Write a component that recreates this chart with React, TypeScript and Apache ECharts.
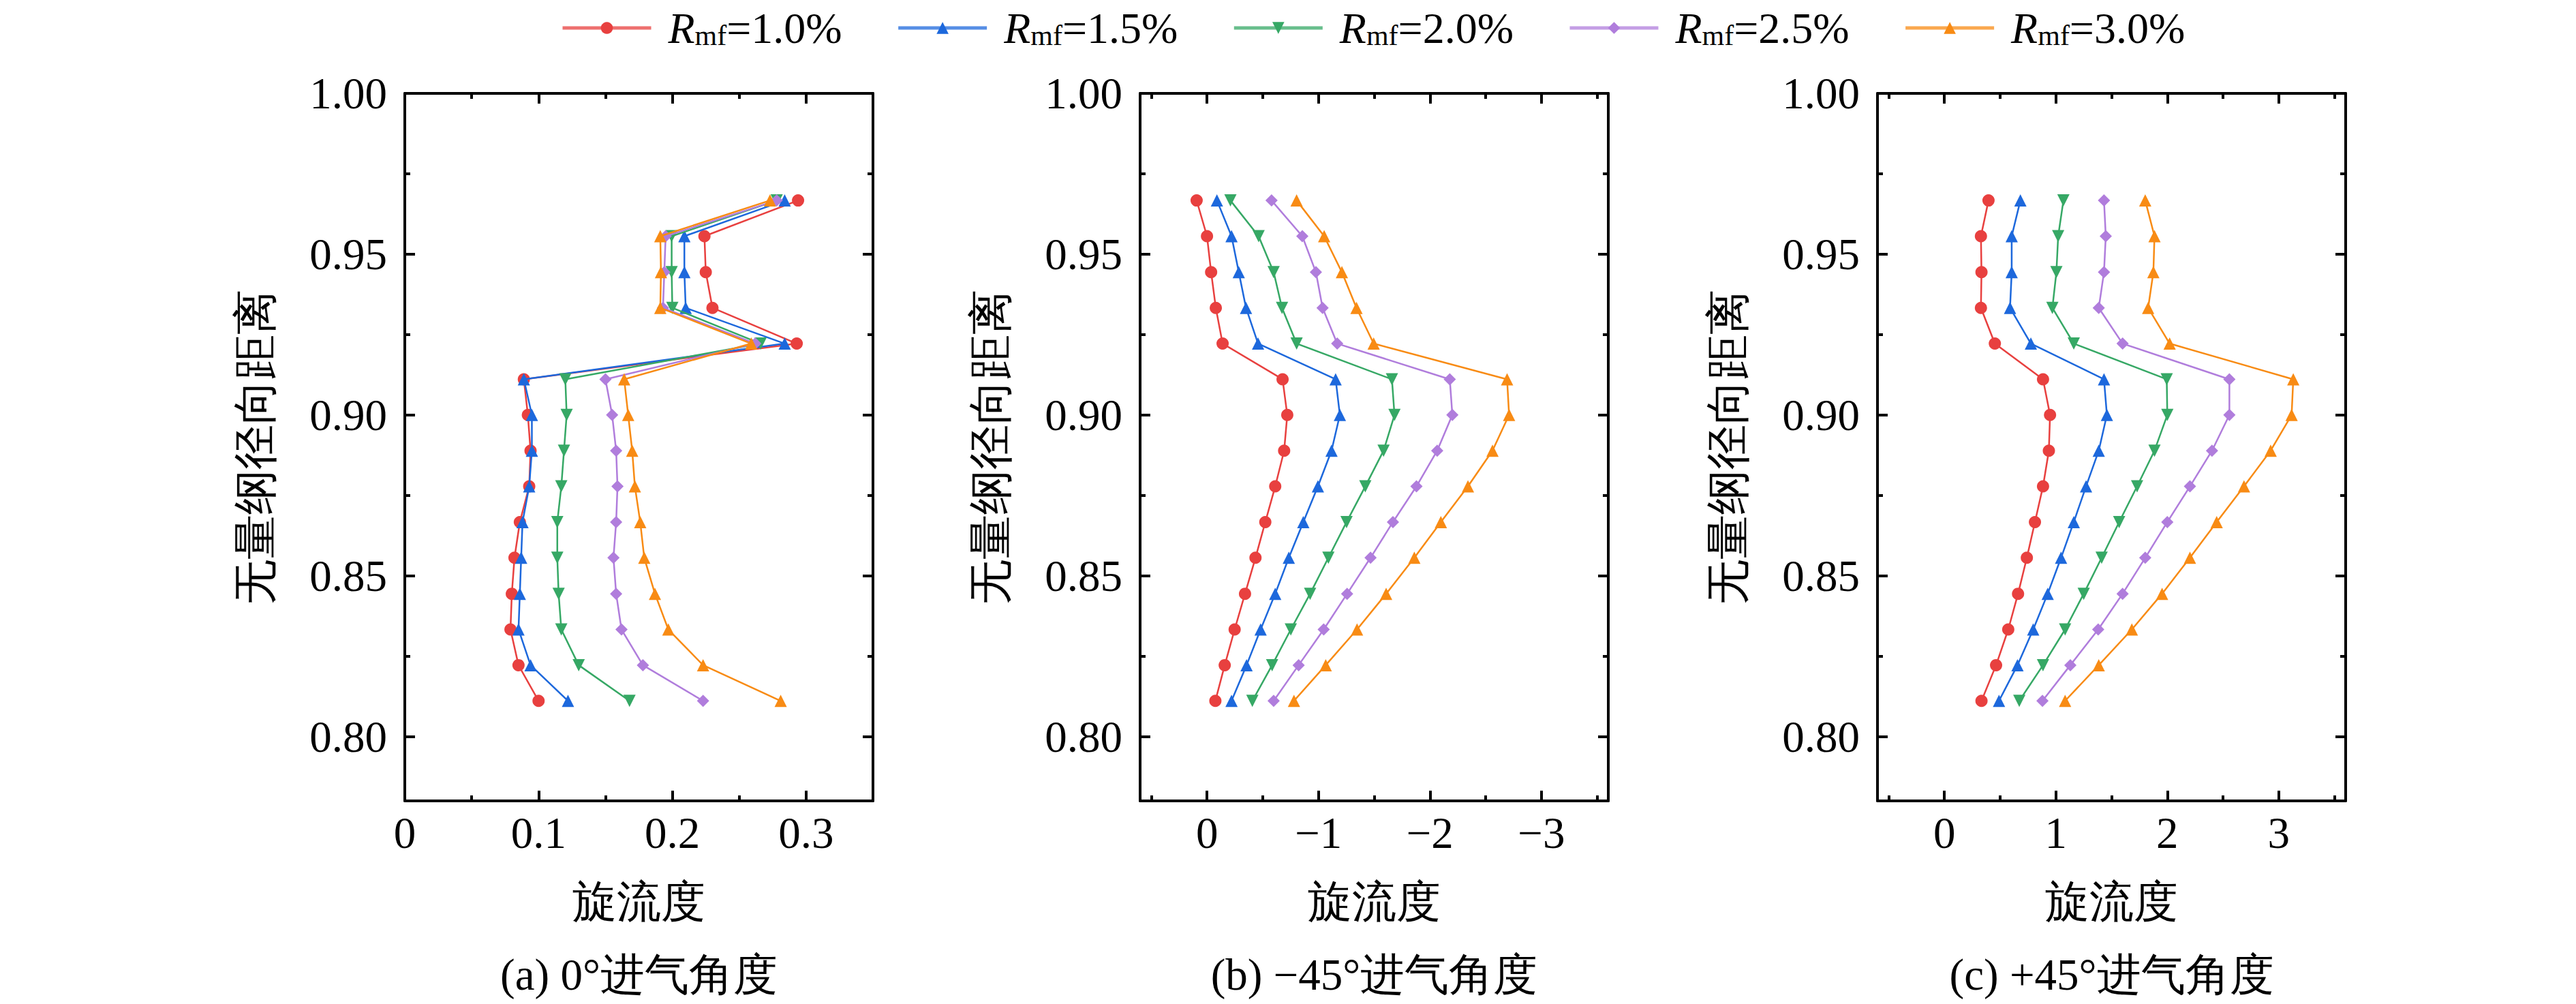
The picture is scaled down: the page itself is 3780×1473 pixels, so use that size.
import React, { useEffect, useRef } from "react";
import * as echarts from "echarts";

// dimensionless radial positions (bottom -> top), shared by all panels
const Y_POS = [
  0.8111, 0.8222, 0.8333, 0.8444, 0.8556, 0.8667, 0.8778, 0.8889, 0.9, 0.9111,
  0.9222, 0.9333, 0.9444, 0.9556, 0.9667,
];

const SERIES_NAMES = ["Rmf=1.0%", "Rmf=1.5%", "Rmf=2.0%", "Rmf=2.5%", "Rmf=3.0%"];

// (a) 0° inlet angle
const A_R10 = [0.1, 0.085, 0.079, 0.08, 0.082, 0.086, 0.093, 0.094, 0.092, 0.089, 0.293, 0.23, 0.225, 0.224, 0.294];
const A_R15 = [0.122, 0.094, 0.085, 0.086, 0.087, 0.088, 0.093, 0.095, 0.095, 0.089, 0.284, 0.21, 0.209, 0.209, 0.284];
const A_R20 = [0.168, 0.13, 0.117, 0.115, 0.114, 0.114, 0.117, 0.119, 0.121, 0.12, 0.266, 0.2, 0.1995, 0.1995, 0.278];
const A_R25 = [0.223, 0.178, 0.162, 0.158, 0.156, 0.158, 0.159, 0.158, 0.155, 0.15, 0.262, 0.193, 0.194, 0.195, 0.278];
const A_R30 = [0.281, 0.223, 0.197, 0.187, 0.179, 0.176, 0.172, 0.17, 0.167, 0.164, 0.259, 0.191, 0.1915, 0.191, 0.273];

// (b) -45° inlet angle
const B_R10 = [-0.075, -0.159, -0.248, -0.341, -0.435, -0.523, -0.612, -0.692, -0.72, -0.678, -0.14, -0.079, -0.037, 0.0, 0.093];
const B_R15 = [-0.22, -0.355, -0.481, -0.612, -0.734, -0.864, -0.995, -1.117, -1.192, -1.154, -0.458, -0.35, -0.285, -0.22, -0.089];
const B_R20 = [-0.407, -0.584, -0.752, -0.925, -1.089, -1.252, -1.42, -1.584, -1.682, -1.659, -0.804, -0.673, -0.598, -0.463, -0.21];
const B_R25 = [-0.598, -0.822, -1.047, -1.257, -1.467, -1.668, -1.879, -2.065, -2.201, -2.178, -1.168, -1.037, -0.977, -0.855, -0.579];
const B_R30 = [-0.78, -1.065, -1.346, -1.607, -1.86, -2.098, -2.341, -2.561, -2.71, -2.692, -1.495, -1.341, -1.21, -1.051, -0.804];

// (c) +45° inlet angle
const C_R10 = [0.333, 0.464, 0.573, 0.661, 0.74, 0.8125, 0.885, 0.9375, 0.948, 0.885, 0.453, 0.328, 0.333, 0.328, 0.396];
const C_R15 = [0.49, 0.656, 0.797, 0.927, 1.047, 1.161, 1.271, 1.385, 1.458, 1.432, 0.776, 0.589, 0.604, 0.604, 0.682];
const C_R20 = [0.672, 0.885, 1.083, 1.25, 1.411, 1.568, 1.729, 1.885, 2.0, 1.995, 1.161, 0.969, 1.005, 1.021, 1.068];
const C_R25 = [0.88, 1.13, 1.38, 1.599, 1.802, 2.0, 2.203, 2.401, 2.557, 2.557, 1.599, 1.385, 1.432, 1.448, 1.432];
const C_R30 = [1.083, 1.385, 1.682, 1.953, 2.203, 2.443, 2.688, 2.927, 3.115, 3.13, 2.021, 1.828, 1.875, 1.885, 1.802];

const PANELS = [
  [A_R10, A_R15, A_R20, A_R25, A_R30],
  [B_R10, B_R15, B_R20, B_R25, B_R30],
  [C_R10, C_R15, C_R20, C_R25, C_R30],
];

const CAPTIONS = ["(a) 0°进气角度", "(b) \u221245°进气角度", "(c) +45°进气角度"];

// axis ticks
const Y_MAJOR = [0.8, 0.85, 0.9, 0.95, 1.0];
const Y_MINOR = [0.825, 0.875, 0.925, 0.975];
const X_MAJOR = [
  [0, 0.1, 0.2, 0.3],
  [0, -1, -2, -3],
  [0, 1, 2, 3],
];
const X_MINOR = [
  [0.05, 0.15, 0.25],
  [0.5, -0.5, -1.5, -2.5, -3.5],
  [-0.5, 0.5, 1.5, 2.5, 3.5],
];
const X_RANGE = [
  [0, 0.35],
  [-3.6, 0.6],
  [-0.6, 3.6],
];

const COLORS = ["#e8403f", "#1d68dc", "#36a865", "#b07ddc", "#f88b14"];
const SYMBOLS = ["circle", "triangle", "triangle", "diamond", "triangle"];
const SYMBOL_ROTATE = [0, 0, 180, 0, 0];

const FONT = "'Liberation Serif', 'Times New Roman', serif";
const GRID_LEFT = [594, 1673, 2755];
const GRID_W = 687;
const GRID_TOP = 137;
const GRID_H = 1038;

const fmtX = (v: number) => (v < 0 ? "\u2212" + String(-v) : String(v));

const App = () => {
  const chartRef = useRef<HTMLDivElement>(null);

  useEffect(() => {
    if (!chartRef.current) return;
    document.body.style.margin = "0";
    const chart = echarts.init(chartRef.current, undefined, { renderer: "svg" });

    const line = { show: true, onZero: false, lineStyle: { color: "#000", width: 4 } };
    const noLine = { show: false, onZero: false };
    const tick = (vals: number[], len: number) => ({
      show: true,
      inside: true,
      length: len,
      customValues: vals,
      lineStyle: { color: "#000", width: 4 },
    });

    const xAxes: any[] = [];
    const yAxes: any[] = [];
    PANELS.forEach((_, p) => {
      const base = {
        type: "value",
        gridIndex: p,
        min: X_RANGE[p][0],
        max: X_RANGE[p][1],
        inverse: p === 1,
        splitLine: { show: false },
      };
      xAxes.push({
        ...base,
        position: "bottom",
        axisLine: line,
        axisTick: tick(X_MAJOR[p], 15),
        axisLabel: {
          show: true,
          customValues: X_MAJOR[p],
          formatter: fmtX,
          fontSize: 65,
          fontFamily: FONT,
          color: "#000",
          margin: 14,
        },
        name: "旋流度",
        nameLocation: "middle",
        nameGap: 115,
        nameTextStyle: { fontSize: 65, fontFamily: FONT, color: "#000" },
      });
      xAxes.push({ ...base, position: "bottom", axisLine: noLine, axisTick: tick(X_MINOR[p], 8), axisLabel: { show: false } });
      xAxes.push({ ...base, position: "top", axisLine: line, axisTick: tick(X_MAJOR[p], 15), axisLabel: { show: false } });
      xAxes.push({ ...base, position: "top", axisLine: noLine, axisTick: tick(X_MINOR[p], 8), axisLabel: { show: false } });

      const ybase = { type: "value", gridIndex: p, min: 0.78, max: 1.0, splitLine: { show: false } };
      yAxes.push({
        ...ybase,
        position: "left",
        axisLine: line,
        axisTick: tick(Y_MAJOR, 15),
        axisLabel: {
          show: true,
          customValues: Y_MAJOR,
          formatter: (v: number) => v.toFixed(2),
          fontSize: 65,
          fontFamily: FONT,
          color: "#000",
          margin: 26,
        },
        name: "无量纲径向距离",
        nameLocation: "middle",
        nameRotate: 90,
        nameGap: 187,
        nameTextStyle: { fontSize: 66, fontFamily: FONT, color: "#000" },
      });
      yAxes.push({ ...ybase, position: "left", axisLine: noLine, axisTick: tick(Y_MINOR, 8), axisLabel: { show: false } });
      yAxes.push({ ...ybase, position: "right", axisLine: line, axisTick: tick(Y_MAJOR, 15), axisLabel: { show: false } });
      yAxes.push({ ...ybase, position: "right", axisLine: noLine, axisTick: tick(Y_MINOR, 8), axisLabel: { show: false } });
    });

    const series: any[] = [];
    PANELS.forEach((panel, p) => {
      panel.forEach((xs, i) => {
        series.push({
          name: SERIES_NAMES[i],
          type: "line",
          xAxisIndex: p * 4,
          yAxisIndex: p * 4,
          data: xs.map((x, k) => [x, Y_POS[k]]),
          symbol: SYMBOLS[i],
          symbolRotate: SYMBOL_ROTATE[i],
          symbolSize: 18,
          color: COLORS[i],
          lineStyle: { width: 2.5, color: COLORS[i] },
          itemStyle: { color: COLORS[i] },
          z: 2 + i,
        });
      });
    });

    const option: any = {
      animation: false,
      backgroundColor: "#fff",
      grid: GRID_LEFT.map((l) => ({ left: l, top: GRID_TOP, width: GRID_W, height: GRID_H })),
      xAxis: xAxes,
      yAxis: yAxes,
      legend: {
        left: 818,
        top: 4,
        itemWidth: 130,
        itemHeight: 22,
        itemGap: 80,
        data: SERIES_NAMES,
        lineStyle: { width: 5, opacity: 0.75 },
        formatter: (n: string) => `{i|R}{s|mf}{t|${n.slice(3)}}`,
        textStyle: {
          color: "#000",
          fontFamily: FONT,
          rich: {
            i: { fontSize: 64, fontStyle: "italic", fontFamily: FONT, color: "#000", padding: [0, 0, 0, 20] },
            s: { fontSize: 42, fontFamily: FONT, color: "#000", verticalAlign: "bottom", lineHeight: 26 },
            t: { fontSize: 64, fontFamily: FONT, color: "#000" },
          },
        },
      },
      graphic: CAPTIONS.map((c, p) => ({
        type: "text",
        x: GRID_LEFT[p] + GRID_W / 2,
        y: 1430,
        style: {
          text: c,
          fontSize: 65,
          fontFamily: FONT,
          fill: "#000",
          align: "center",
          verticalAlign: "middle",
        },
      })),
      series,
    };

    chart.setOption(option);
    return () => chart.dispose();
  }, []);

  return <div ref={chartRef} style={{ width: 3780, height: 1473 }} />;
};

export default App;
